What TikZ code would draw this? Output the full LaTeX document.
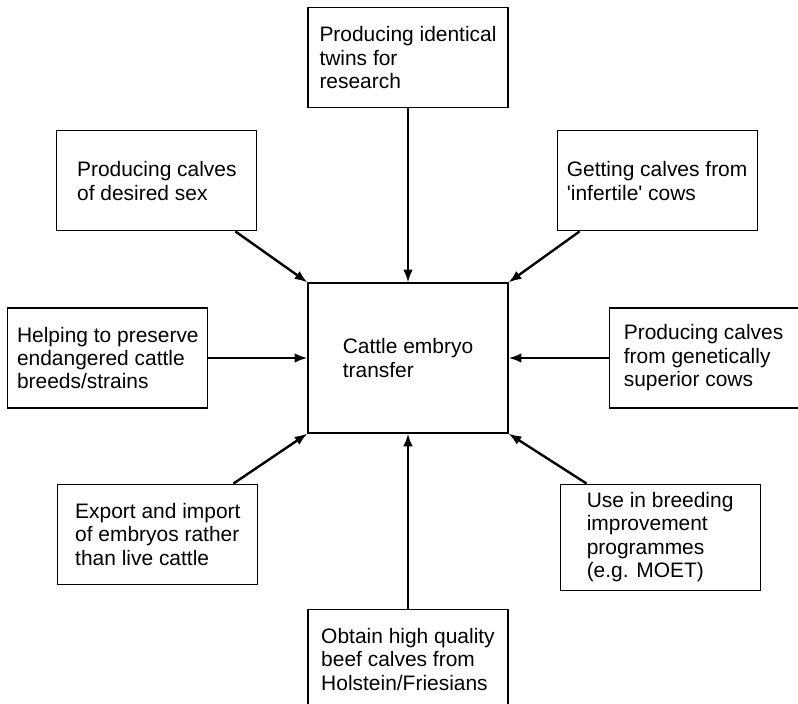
\documentclass[tikz,border=0pt]{standalone}
\usepackage{fontspec}
\setmainfont{Liberation Sans}
\usetikzlibrary{positioning, arrows.meta}

\begin{document}
\begin{tikzpicture}[>={Latex[length=3.2mm,width=2.4mm]}, node distance=12.5mm,
  box/.style={draw,line width=0.8pt,minimum width=50mm,minimum height=25mm,align=left,inner sep=2mm,font=\fontsize{14.9}{16.7}\selectfont},
  link/.style={->,line width=1.7pt}]
  \useasboundingbox (-102mm,-86.25mm) rectangle (97.5mm,89.5mm);
  \node[box, minimum height=37.5mm] (c) {Cattle embryo\\transfer};
  \node[box, above=43.5mm of c] (twins) {Producing identical\\twins for\\research};
  \node[box, above left=12.75mm and 12.5mm of c] (sex) {Producing calves\\of desired sex};
  \node[box, above right=12.75mm and 12mm of c] (infert) {Getting calves from\\\textquotesingle infertile\textquotesingle{} cows};
  \node[box, left=24.75mm of c] (help) {Helping to preserve\\endangered cattle\\breeds/strains};
  \node[box, right=25mm of c, minimum width=47.25mm] (sup) {Producing calves\\from genetically\\superior cows};
  \node[box, below left=12.5mm and 12.25mm of c] (exp) {Export and import\\of embryos rather\\than live cattle};
  \node[box, below right=12.5mm and 12.75mm of c] (moet) {Use in breeding\\improvement\\programmes\\(e.g. MOET)};
  \node[box, below=43.75mm of c] (beef) {Obtain high quality\\beef calves from\\Holstein/Friesians};
  % arrows into the centre box
  \draw[link] (twins) -- (c);
  \draw[link] ([xshift=-5.5mm]sex.south east) -- (c.north west);
  \draw[link] ([xshift=5.75mm]infert.south west) -- (c.north east);
  \draw[link] (help) -- (c);
  \draw[link] (sup) -- (c);
  \draw[link] ([xshift=-6.25mm]exp.north east) -- (c.south west);
  \draw[link] ([xshift=6.75mm]moet.north west) -- (c.south east);
  \draw[link] (beef) -- (c);
\end{tikzpicture}
\end{document}
